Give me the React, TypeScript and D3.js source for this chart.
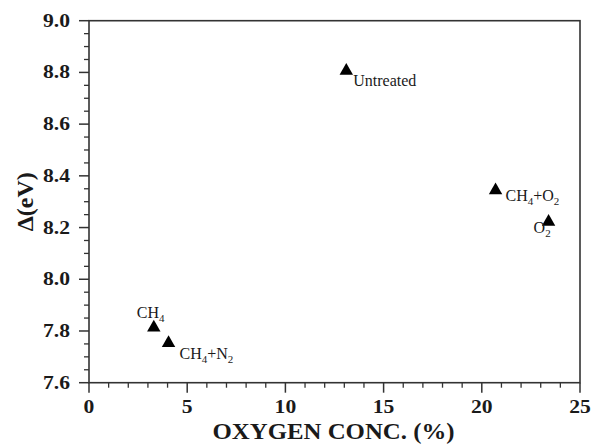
import React from 'react'
import * as d3 from 'd3'

const samples = ['CH4', 'CH4+N2', 'Untreated', 'CH4+O2', 'O2']
const oxygen = [3.3, 4.05, 13.1, 20.7, 23.4]
const delta = [7.817, 7.757, 8.81, 8.348, 8.226]
const xTicks = [0, 5, 10, 15, 20, 25]
const yTicks = [7.6, 7.8, 8.0, 8.2, 8.4, 8.6, 8.8, 9.0]

// label offsets from the marker
const labelPos: Record<string, [number, number]> = {
  'CH4': [-17, -9],
  'CH4+N2': [11, 17],
  'Untreated': [7, 16],
  'CH4+O2': [10, 12],
  'O2': [-15, 12],
}

function Label({ name }: { name: string }) {
  const sub = (s: string) => (
    <tspan dy={4} fontSize={11}>{s}</tspan>
  )
  if (name === 'CH4') return <>CH{sub('4')}</>
  if (name === 'CH4+N2') return <>CH{sub('4')}<tspan dy={-4}>+N</tspan>{sub('2')}</>
  if (name === 'CH4+O2') return <>CH{sub('4')}<tspan dy={-4}>+O</tspan>{sub('2')}</>
  if (name === 'O2') return <>O{sub('2')}</>
  return <>{name}</>
}

export default function App() {
  const width = 592
  const height = 446
  const margin = { top: 20.7, right: 12, bottom: 63.3, left: 89 }

  const x = d3.scaleLinear().domain([0, 25]).range([margin.left, width - margin.right])
  const y = d3.scaleLinear().domain([7.6, 9.0]).range([height - margin.bottom, margin.top])

  const xMinor = d3.range(0, 25.01, 1).filter(v => v % 5 !== 0)
  const yMinor = d3.range(7.6, 9.001, 0.05).filter(v => Math.abs(v * 5 - Math.round(v * 5)) > 0.01)

  const tri = d3.symbol().type(d3.symbolTriangle).size(78)()
  const axisColor = '#333'
  const textColor = '#1a1a1a'
  const font = '"Liberation Serif", "Times New Roman", serif'

  return (
    <svg width={width} height={height} style={{ position: 'absolute', left: 0, top: 0, background: '#fff' }}
      fontFamily={font}>
      <rect x={x(0)} y={y(9)} width={x(25) - x(0)} height={y(7.6) - y(9)}
        fill="none" stroke={axisColor} strokeWidth={1.6} />
      {xTicks.map(t => (
        <g key={'xt' + t}>
          <line x1={x(t)} x2={x(t)} y1={y(7.6)} y2={y(7.6) + 10} stroke={axisColor} strokeWidth={1.5} />
          <text transform={`translate(${x(t)},${y(7.6) + 30}) scale(1.2,1)`} textAnchor="middle"
            fontSize={18} fontWeight="bold" fill={textColor}>{t}</text>
        </g>
      ))}
      {xMinor.map(t => (
        <line key={'xm' + t} x1={x(t)} x2={x(t)} y1={y(7.6)} y2={y(7.6) + 5} stroke={axisColor} strokeWidth={1.3} />
      ))}
      {yTicks.map(t => (
        <g key={'yt' + t}>
          <line x1={x(0) - 10} x2={x(0)} y1={y(t)} y2={y(t)} stroke={axisColor} strokeWidth={1.5} />
          <text transform={`translate(${x(0) - 19},${y(t) + 6}) scale(1.2,1)`} textAnchor="end"
            fontSize={18} fontWeight="bold" fill={textColor}>{t.toFixed(1)}</text>
        </g>
      ))}
      {yMinor.map(t => (
        <line key={'ym' + t} x1={x(0) - 5} x2={x(0)} y1={y(t)} y2={y(t)} stroke={axisColor} strokeWidth={1.3} />
      ))}
      <text transform={`translate(${(x(0) + x(25)) / 2 - 1},439) scale(1.08,1)`} textAnchor="middle"
        fontSize={23} fontWeight="bold" fill={textColor}>
        OXYGEN CONC. (%)
      </text>
      <text transform={`translate(33,${(y(7.6) + y(9)) / 2}) rotate(-90)`} textAnchor="middle"
        fontSize={24} fontWeight="bold" fill={textColor}>Δ(eV)</text>
      {samples.map((s, i) => {
        const px = x(oxygen[i])
        const py = y(delta[i])
        const [dx, dy] = labelPos[s]
        return (
          <g key={s}>
            <path d={tri || ''} transform={`translate(${px},${py + 1})`} fill="#000" />
            <text x={px + dx} y={py + dy} fontSize={16} fill={textColor}><Label name={s} /></text>
          </g>
        )
      })}
    </svg>
  )
}
